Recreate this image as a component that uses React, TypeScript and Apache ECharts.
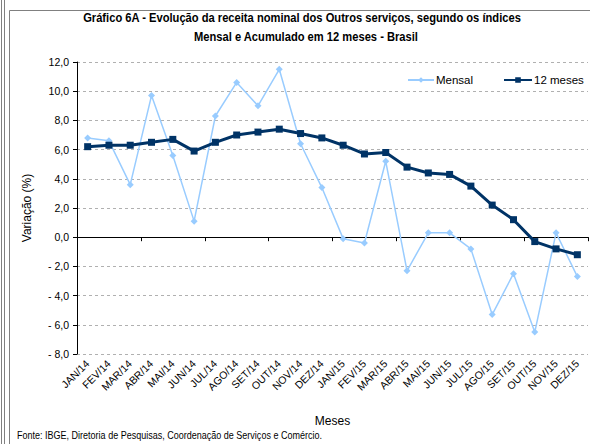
import React, { useEffect, useRef } from "react";
import * as echarts from "echarts";

const categories = [
  "JAN/14", "FEV/14", "MAR/14", "ABR/14", "MAI/14", "JUN/14", "JUL/14", "AGO/14", "SET/14", "OUT/14", "NOV/14", "DEZ/14",
  "JAN/15", "FEV/15", "MAR/15", "ABR/15", "MAI/15", "JUN/15", "JUL/15", "AGO/15", "SET/15", "OUT/15", "NOV/15", "DEZ/15",
];
const mensal = [6.8, 6.6, 3.6, 9.7, 5.6, 1.1, 8.3, 10.6, 9.0, 11.5, 6.4, 3.4, -0.1, -0.4, 5.2, -2.3, 0.3, 0.3, -0.8, -5.3, -2.5, -6.5, 0.3, -2.7];
const meses12 = [6.2, 6.3, 6.3, 6.5, 6.7, 5.9, 6.5, 7.0, 7.2, 7.4, 7.1, 6.8, 6.3, 5.7, 5.8, 4.8, 4.4, 4.3, 3.5, 2.2, 1.2, -0.3, -0.8, -1.2];
const titleLines = [
  "Gráfico 6A - Evolução da receita nominal dos Outros serviços, segundo os índices",
  "Mensal e Acumulado em 12 meses - Brasil",
];
const sourceText = "Fonte: IBGE, Diretoria de Pesquisas, Coordenação de Serviços e Comércio.";

const FONT = "'Liberation Sans', Arial, sans-serif";

export default function App() {
  const ref = useRef<HTMLDivElement>(null);
  useEffect(() => {
    if (!ref.current) return;
    const chart = echarts.init(ref.current, undefined, { renderer: "svg" });
    const fmt = (v: number) => {
      const s = Math.abs(v).toFixed(1).replace(".", ",");
      return v < 0 ? "- " + s : s;
    };
    const legendText = { fontFamily: FONT, fontSize: 11.5, color: "#000", padding: [0, 0, 0, -3] };
    const titleStyle = { fontFamily: FONT, fontSize: 12, fontWeight: "bold", fill: "#000", align: "center", verticalAlign: "middle" };
    chart.setOption({
      animation: false,
      backgroundColor: "#ffffff",
      textStyle: { fontFamily: FONT },
      legend: [
        {
          left: 402,
          top: 69,
          itemWidth: 26,
          itemHeight: 7,
          textStyle: legendText,
          data: ["Mensal"],
        },
        {
          left: 498,
          top: 69,
          itemWidth: 28,
          itemHeight: 7,
          textStyle: legendText,
          data: ["12 meses"],
        },
      ],
      grid: { left: 77, right: 2, top: 62, bottom: 90 },
      graphic: [
        { type: "line", shape: { x1: 1.5, y1: 0, x2: 1.5, y2: 444 }, style: { stroke: "#808080", lineWidth: 1 } },
        { type: "line", shape: { x1: 4.5, y1: 0, x2: 4.5, y2: 444 }, style: { stroke: "#808080", lineWidth: 1 } },
        { type: "polyline", shape: { points: [[9.5, 444], [9.5, 10.5], [590, 10.5]] }, style: { stroke: "#808080", lineWidth: 1, fill: null } },
        { type: "text", x: 302, y: 18, scaleX: 0.93, style: { ...titleStyle, text: titleLines[0] } },
        { type: "text", x: 306, y: 37, scaleX: 0.93, style: { ...titleStyle, text: titleLines[1] } },
        {
          type: "text",
          x: 17,
          y: 430,
          scaleX: 0.82,
          style: { text: sourceText, fontFamily: FONT, fontSize: 11, fill: "#000" },
        },
      ],
      xAxis: [
        {
          type: "category",
          data: categories,
          position: "bottom",
          axisLine: { show: false, onZero: false },
          axisTick: { show: false },
          axisLabel: { rotate: 45, fontSize: 10.5, color: "#000", margin: 8, interval: 0, fontFamily: FONT },
          name: "Meses",
          nameLocation: "middle",
          nameGap: 61,
          nameTextStyle: { fontSize: 12, color: "#000", fontFamily: FONT },
        },
        {
          type: "category",
          data: categories,
          position: "bottom",
          axisLine: { show: true, onZero: true, lineStyle: { color: "#000", width: 1 } },
          axisTick: { show: true, length: 4, lineStyle: { color: "#000" } },
          axisLabel: { show: false },
        },
      ],
      yAxis: {
        type: "value",
        min: -8,
        max: 12,
        interval: 2,
        axisLine: { show: true, lineStyle: { color: "#000", width: 1 } },
        axisTick: { show: true, length: 4, lineStyle: { color: "#000" } },
        axisLabel: { formatter: fmt, fontSize: 10.5, color: "#000", margin: 8, fontFamily: FONT },
        splitLine: { show: true, lineStyle: { color: "#b0b0b0", type: [3, 3], width: 1 } },
        name: "Variação (%)",
        nameLocation: "middle",
        nameGap: 44,
        nameTextStyle: { fontSize: 12, color: "#000", fontFamily: FONT },
      },
      series: [
        {
          name: "Mensal",
          type: "line",
          data: mensal,
          color: "#99ccff",
          symbol: "diamond",
          symbolSize: 7,
          lineStyle: { color: "#99ccff", width: 1.5 },
          itemStyle: { color: "#99ccff" },
        },
        {
          name: "12 meses",
          type: "line",
          data: meses12,
          color: "#003366",
          symbol: "rect",
          symbolSize: 7,
          lineStyle: { color: "#003366", width: 3 },
          itemStyle: { color: "#003366" },
        },
      ],
    });
    return () => chart.dispose();
  }, []);
  return <div ref={ref} style={{ position: "fixed", left: 0, top: 0, width: 590, height: 444 }} />;
}
